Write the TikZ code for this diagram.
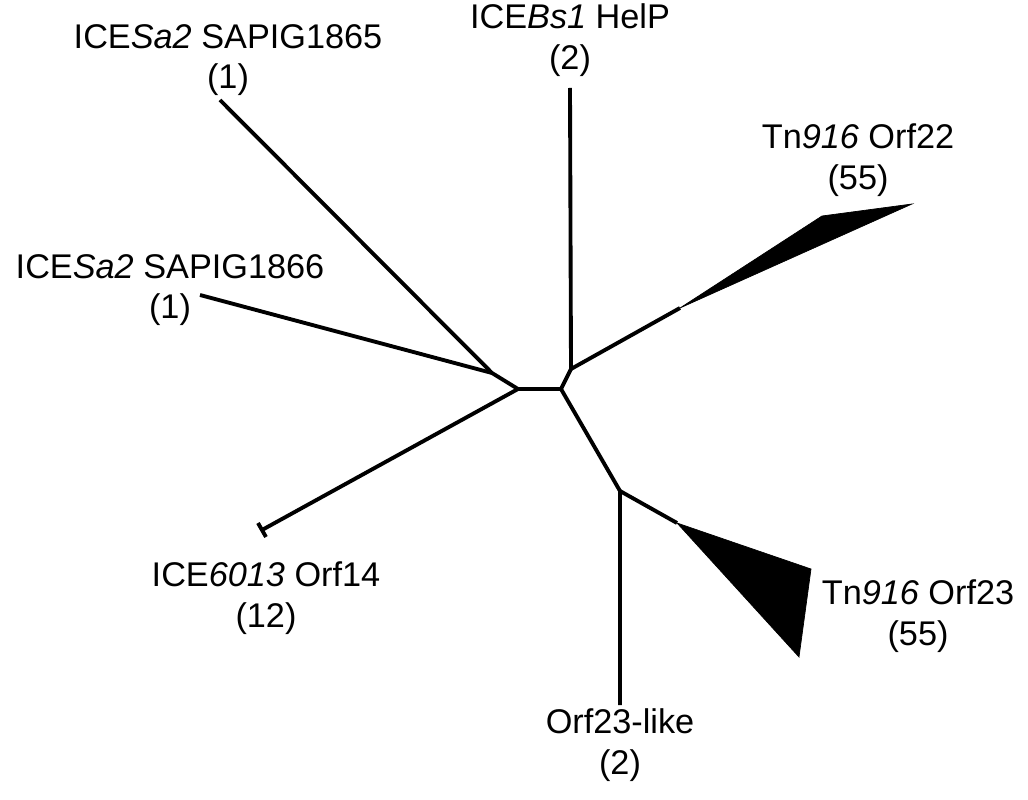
\documentclass[tikz,border=0pt]{standalone}
\usepackage{fontspec}
\setmainfont{Liberation Sans}
\tikzset{
  branch/.style={line width=2.2pt},
  clade/.style={fill=black,draw=black,line join=miter},
  taxon/.style={align=center,font=\fontsize{19.5}{23}\selectfont,inner sep=0pt}
}
\begin{document}
\begin{tikzpicture}[x=0.02cm,y=-0.02cm]
            \useasboundingbox (0,0) rectangle (1028,800);

            % internal nodes
            \coordinate (nA) at (518,389);
            \coordinate (nB) at (561,389);
            \coordinate (nC) at (571,369);
            \coordinate (nD) at (492,373);
            \coordinate (nE) at (620,491);

            % leaf ends
            \coordinate (l1865) at (220,100);
            \coordinate (l1866) at (200,295);
            \coordinate (l6013) at (262,530);
            \coordinate (lHelP) at (570,88);
            \coordinate (l22) at (680,308);
            \coordinate (l23) at (677,523);
            \coordinate (llike) at (620,705);

            \draw[branch] (nA) -- (nB) -- (nC) -- (lHelP);
            \draw[branch] (nA) -- (nD) -- (l1865);
            \draw[branch] (nD) -- (l1866);
            \draw[branch] (nA) -- (l6013);
            \draw[branch] (l6013) ++(-4,-7) -- ++(8,14);
            \draw[branch] (nC) -- (l22);
            \draw[branch] (nB) -- (nE) -- (llike);
            \draw[branch] (nE) -- (l23);

            \filldraw[clade] (l22) -- (822,216) -- (912,204) -- cycle;
            \filldraw[clade] (l23) -- (811,569) -- (799,657) -- cycle;

            \node[taxon] (t1865) at (228,60) {ICE\textit{Sa2} SAPIG1865\\(1)};
            \node[taxon] (tHelP) at (570,40) {ICE\textit{Bs1} HelP\\(2)};
            \node[taxon] (t22) at (858,160) {Tn\textit{916} Orf22\\(55)};
            \node[taxon] (t1866) at (170,290) {ICE\textit{Sa2} SAPIG1866\\(1)};
            \node[taxon] (t6013) at (266,598) {ICE\textit{6013} Orf14\\(12)};
            \node[taxon] (t23) at (918,616) {Tn\textit{916} Orf23\\(55)};
            \node[taxon] (tlike) at (620,745) {Orf23-like\\(2)};
        \end{tikzpicture}
\end{document}
